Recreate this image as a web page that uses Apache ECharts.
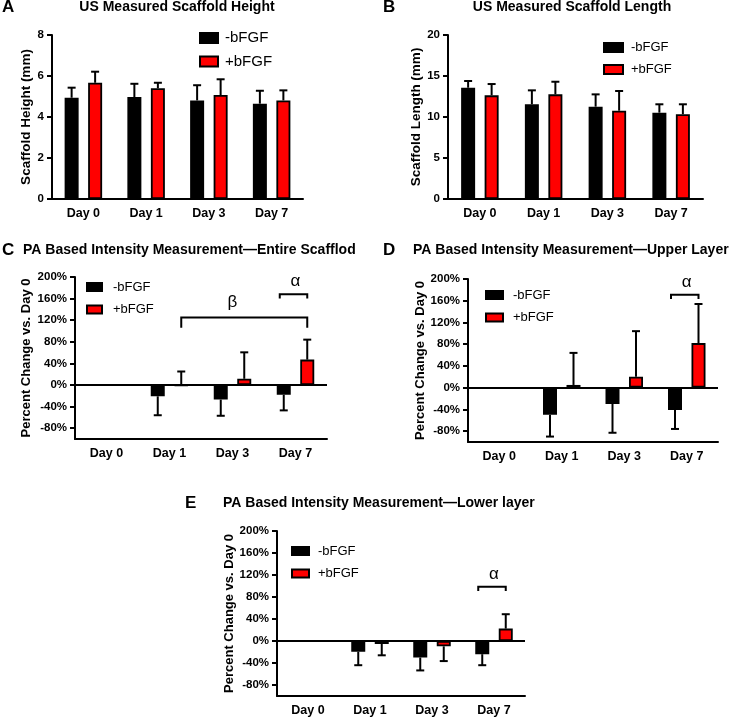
<!DOCTYPE html>
<html><head><meta charset="utf-8">
<script src="https://cdn.jsdelivr.net/npm/echarts@6/dist/echarts.min.js"></script>
<style>html,body{margin:0;padding:0;background:#fff}#c{width:741px;height:718px}</style>
</head><body><div id="c"></div>
<script>
// ---------- data ----------
const categories = ['Day 0', 'Day 1', 'Day 3', 'Day 7'];
const seriesNames = ['-bFGF', '+bFGF'];

// A: US measured scaffold height (mm)
const heightMinus    = [4.94, 4.97, 4.81, 4.65];
const heightMinusErr = [0.49, 0.65, 0.74, 0.63];
const heightPlus     = [5.67, 5.40, 5.07, 4.81];
const heightPlusErr  = [0.54, 0.27, 0.77, 0.49];

// B: US measured scaffold length (mm)
const lengthMinus    = [13.57, 11.55, 11.26, 10.53];
const lengthMinusErr = [0.82, 1.70, 1.50, 1.02];
const lengthPlus     = [12.64, 12.76, 10.77, 10.33];
const lengthPlusErr  = [1.38, 1.54, 2.40, 1.22];

// C: PA intensity, entire scaffold (% change vs Day 0); signed error (direction of bar)
const entireMinus    = [null, -21, -27, -18];
const entireMinusErr = [null, -35, -30, -29];
const entirePlus     = [null, -1, 11.5, 47];
const entirePlusErr  = [null, 26, 49, 37];

// D: upper layer
const upperMinus    = [null, -50, -30, -41];
const upperMinusErr = [null, -40, -53, -35];
const upperPlus     = [null, 5, 20, 82];
const upperPlusErr  = [null, 59, 84, 72];

// E: lower layer
const lowerMinus    = [null, -19.5, -30, -24];
const lowerMinusErr = [null, -24.5, -23.5, -20];
const lowerPlus     = [null, -5.5, -9.7, 22.5];
const lowerPlusErr  = [null, -20.5, -26.8, 26.2];

// tick labels
const heightTicks  = [0, 2, 4, 6, 8];
const lengthTicks  = [0, 5, 10, 15, 20];
const percentTicks = [-80, -40, 0, 40, 80, 120, 160, 200];

// significance brackets (category index, series index, value levels)
const bracketsC = [
  {from: 1, fromS: 1, to: 3, toS: 1, y: 125, drop: 106, text: 'β', textAt: 2},
  {from: 3, fromS: 0, to: 3, toS: 1, y: 168, drop: 160, text: 'α', textAt: 3}
];
const bracketsD = [{from: 3, fromS: 0, to: 3, toS: 1, y: 171, drop: 163, text: 'α', textAt: 3}];
const bracketsE = [{from: 3, fromS: 0, to: 3, toS: 1, y: 98.5, drop: 90.7, text: 'α', textAt: 3}];

// ---------- style ----------
const FONT = '"Liberation Sans", Arial, Helvetica, sans-serif';
const RED = '#ff0000';
const BLACK = '#000000';
const BAR_W = 14;
const BAR_GAP_PX = 9.5;
const BAR_OFF = (BAR_W + BAR_GAP_PX) / 2;
const AXIS_W = 2;
const labelGap = {'α': 4, 'β': 7};

const panels = [
  {grid: {left: 52, top: 35, width: 251, height: 164}, min: 0, max: 8, ticks: heightTicks, pct: false,
   name: 'Scaffold Height (mm)', nameGap: 17, nameSize: 13.5,
   minus: heightMinus, minusErr: heightMinusErr, plus: heightPlus, plusErr: heightPlusErr,
   legend: {left: 199, top: 30.5, itemWidth: 18, itemHeight: 10, itemGap: 8.5, fontSize: 15, pad: 2}, brackets: []},
  {grid: {left: 448, top: 35, width: 255, height: 164}, min: 0, max: 20, ticks: lengthTicks, pct: false,
   name: 'Scaffold Length (mm)', nameGap: 24, nameSize: 13.5,
   minus: lengthMinus, minusErr: lengthMinusErr, plus: lengthPlus, plusErr: lengthPlusErr,
   legend: {left: 603, top: 41, itemWidth: 19, itemHeight: 9, itemGap: 9, fontSize: 13, pad: 3}, brackets: []},
  {grid: {left: 75, top: 277, width: 252, height: 162}, min: -100, max: 200, ticks: percentTicks, pct: true,
   name: 'Percent Change vs. Day 0', nameGap: 42, nameSize: 13,
   minus: entireMinus, minusErr: entireMinusErr, plus: entirePlus, plusErr: entirePlusErr,
   legend: {left: 86, top: 280.5, itemWidth: 15, itemHeight: 8, itemGap: 9.5, fontSize: 13, pad: 6}, brackets: bracketsC},
  {grid: {left: 468, top: 279, width: 250, height: 163}, min: -100, max: 200, ticks: percentTicks, pct: true,
   name: 'Percent Change vs. Day 0', nameGap: 38, nameSize: 13,
   minus: upperMinus, minusErr: upperMinusErr, plus: upperPlus, plusErr: upperPlusErr,
   legend: {left: 485, top: 288.5, itemWidth: 17, itemHeight: 8, itemGap: 9.5, fontSize: 13, pad: 5}, brackets: bracketsD},
  {grid: {left: 277, top: 531, width: 248, height: 165}, min: -100, max: 200, ticks: percentTicks, pct: true,
   name: 'Percent Change vs. Day 0', nameGap: 37, nameSize: 13,
   minus: lowerMinus, minusErr: lowerMinusErr, plus: lowerPlus, plusErr: lowerPlusErr,
   legend: {left: 291, top: 544.5, itemWidth: 17, itemHeight: 8, itemGap: 9.5, fontSize: 13, pad: 4}, brackets: bracketsE}
];

const titles = [
  {text: 'A', x: 2, y: 7, size: 17, align: 'left'},
  {text: 'US Measured Scaffold Height', x: 177, y: 7.5, size: 14, align: 'center'},
  {text: 'B', x: 383, y: 7, size: 17, align: 'left'},
  {text: 'US Measured Scaffold Length', x: 572, y: 7.5, size: 14, align: 'center'},
  {text: 'C', x: 2, y: 250, size: 17, align: 'left'},
  {text: 'PA Based Intensity Measurement\u2014Entire Scafflod', x: 23, y: 250.5, size: 14, align: 'left'},
  {text: 'D', x: 383, y: 250, size: 17, align: 'left'},
  {text: 'PA Based Intensity Measurement\u2014Upper Layer', x: 413, y: 250.5, size: 14, align: 'left'},
  {text: 'E', x: 185, y: 503.5, size: 17, align: 'left'},
  {text: 'PA Based Intensity Measurement\u2014Lower layer', x: 223, y: 503.5, size: 14, align: 'left'}
];

// ---------- build ----------
const grid = [], xAxis = [], yAxis = [], series = [], legend = [];

function errData(mean, err) {
  const out = [];
  mean.forEach((m, i) => { if (m !== null && err[i] !== null) out.push([i, m, m + err[i]]); });
  return out;
}

function errorSeries(idx, data, side) {
  return {
    type: 'custom', xAxisIndex: idx, yAxisIndex: idx, z: 1, silent: true,
    data: data, encode: {x: 0, y: [1, 2]},
    renderItem: function (params, api) {
      const p0 = api.coord([api.value(0), api.value(1)]);
      const p1 = api.coord([api.value(0), api.value(2)]);
      const x = p0[0] + side * BAR_OFF;
      const st = {stroke: BLACK, lineWidth: 2};
      return {type: 'group', children: [
        {type: 'line', shape: {x1: x, y1: p0[1], x2: x, y2: p1[1]}, style: st},
        {type: 'line', shape: {x1: x - 4, y1: p1[1], x2: x + 4, y2: p1[1]}, style: st}
      ]};
    }
  };
}

function bracketSeries(idx, brs) {
  return {
    type: 'custom', xAxisIndex: idx, yAxisIndex: idx, z: 5, silent: true,
    data: brs.map(b => [b.from, b.y, b.to, b.drop]),
    encode: {x: [0, 2], y: [1, 3]},
    renderItem: function (params, api) {
      const b = brs[params.dataIndex];
      const a = api.coord([b.from, b.y]);
      const c = api.coord([b.to, b.y]);
      const yd = api.coord([b.from, b.drop])[1];
      const x1 = a[0] + (b.fromS ? 1 : -1) * BAR_OFF - (b.fromS ? 0 : 4);
      const x2 = c[0] + (b.toS ? 1 : -1) * BAR_OFF;
      const tx = api.coord([b.textAt, b.y])[0];
      const st = {stroke: BLACK, lineWidth: 2, fill: null};
      return {type: 'group', children: [
        {type: 'polyline', shape: {points: [[x1, yd], [x1, a[1]], [x2, a[1]], [x2, yd]]}, style: st},
        {type: 'text', x: tx, y: a[1] - labelGap[b.text], style: {
          text: b.text, fill: BLACK, font: '17px ' + FONT,
          align: 'center', verticalAlign: 'bottom', textAlign: 'center', textVerticalAlign: 'bottom'}}
      ]};
    }
  };
}

panels.forEach((p, i) => {
  grid.push(Object.assign({containLabel: false, outerBoundsMode: 'none'}, p.grid));
  xAxis.push({
    type: 'category', gridIndex: i, data: categories,
    axisLine: {onZero: false, lineStyle: {color: BLACK, width: AXIS_W}},
    axisTick: {alignWithLabel: true, length: 5, lineStyle: {color: BLACK, width: AXIS_W}},
    axisLabel: {color: BLACK, fontWeight: 'bold', fontSize: 12.5, fontFamily: FONT, margin: 8},
    splitLine: {show: false}
  });
  yAxis.push({
    type: 'value', gridIndex: i, min: p.min, max: p.max,
    name: p.name, nameLocation: 'middle', nameGap: p.nameGap,
    nameTextStyle: {color: BLACK, fontWeight: 'bold', fontSize: p.nameSize, fontFamily: FONT},
    axisLine: {show: true, lineStyle: {color: BLACK, width: AXIS_W}},
    axisTick: {show: true, length: 5, customValues: p.ticks, lineStyle: {color: BLACK, width: AXIS_W}},
    axisLabel: {color: BLACK, fontWeight: 'bold', fontSize: 11.5, fontFamily: FONT, margin: 8,
      customValues: p.ticks, formatter: p.pct ? '{value}%' : '{value}'},
    splitLine: {show: false}
  });
  const minusSeries = {
    type: 'bar', name: seriesNames[0], xAxisIndex: i, yAxisIndex: i, z: 2,
    data: p.minus, barWidth: BAR_W, barGap: (BAR_GAP_PX / BAR_W * 100) + '%',
    itemStyle: {color: BLACK, borderColor: BLACK, borderWidth: 1.8}
  };
  if (p.pct) {
    minusSeries.markLine = {silent: true, symbol: ['none', 'none'], label: {show: false},
      lineStyle: {color: BLACK, width: AXIS_W, type: 'solid'}, data: [{yAxis: 0}], z: 6};
  }
  series.push(minusSeries);
  series.push({
    type: 'bar', name: seriesNames[1], xAxisIndex: i, yAxisIndex: i, z: 2,
    data: p.plus, barWidth: BAR_W, barGap: (BAR_GAP_PX / BAR_W * 100) + '%',
    itemStyle: {color: RED, borderColor: BLACK, borderWidth: 1.8}
  });
  series.push(errorSeries(i, errData(p.minus, p.minusErr), -1));
  series.push(errorSeries(i, errData(p.plus, p.plusErr), 1));
  if (p.brackets.length) series.push(bracketSeries(i, p.brackets));
  legend.push({
    left: p.legend.left, top: p.legend.top, orient: 'vertical', padding: 0,
    itemWidth: p.legend.itemWidth, itemHeight: p.legend.itemHeight, itemGap: p.legend.itemGap,
    icon: 'rect', data: seriesNames, selectedMode: false,
    textStyle: {color: BLACK, fontSize: p.legend.fontSize, fontFamily: FONT, padding: [0, 0, 0, p.legend.pad]}
  });
});

const graphic = titles.map(t => ({
  type: 'text', x: t.x, y: t.y, silent: true,
  style: {text: t.text, fill: BLACK, font: 'bold ' + t.size + 'px ' + FONT,
    align: t.align, verticalAlign: 'middle', textAlign: t.align, textVerticalAlign: 'middle'}
}));

const chart = echarts.init(document.getElementById('c'), null, {renderer: 'canvas'});
chart.setOption({
  animation: false,
  backgroundColor: '#ffffff',
  grid, xAxis, yAxis, series, legend, graphic,
  tooltip: {show: false}
});
</script>
</body></html>
